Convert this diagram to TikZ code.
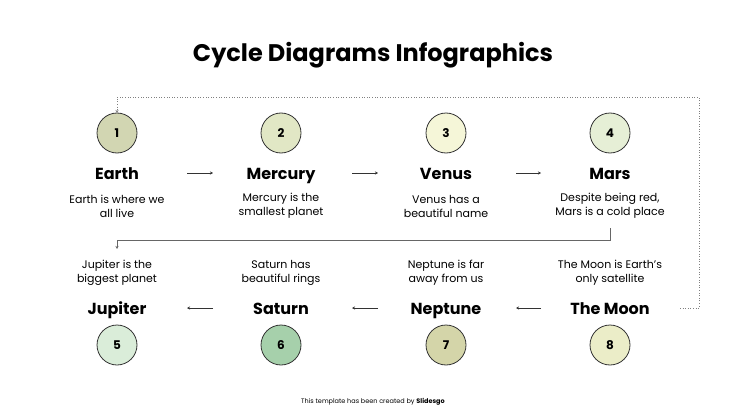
\documentclass[tikz,border=0pt]{standalone}
\usepackage{fontspec}
\setmainfont{Poppins}
\usetikzlibrary{arrows.meta}
\definecolor{c1}{HTML}{D2D6B2}
\definecolor{c2}{HTML}{E1E7C5}
\definecolor{c3}{HTML}{F5F6D8}
\definecolor{c4}{HTML}{E6EFD6}
\definecolor{c5}{HTML}{DAEDD9}
\definecolor{c6}{HTML}{A6D0AB}
\definecolor{c7}{HTML}{D4D5A9}
\definecolor{c8}{HTML}{EBEDC8}
\begin{document}
\begin{tikzpicture}[x=1pt,y=-1pt,
 num/.style={circle,draw=black!80,line width=0.8pt,minimum size=40pt,inner sep=0pt,font=\fontsize{12}{13}\selectfont\bfseries},
 nm/.style={font=\fontsize{16}{17}\selectfont\bfseries,text height=11pt,text depth=3pt,anchor=base},
 desc/.style={align=center,font=\fontsize{11}{14}\selectfont},
 ar/.style={-{Stealth[length=3pt,width=3pt]},line width=0.6pt,black!80}]
\useasboundingbox (0,0) rectangle (747,420);
\node[font=\fontsize{24}{26}\selectfont\bfseries] (title) at (373,55) {Cycle Diagrams Infographics};
\foreach \i/\x/\n/\d/\c in {1/117/Earth/{Earth is where we\\all live}/c1,2/281/Mercury/{Mercury is the\\smallest planet}/c2,3/446/Venus/{Venus has a\\beautiful name}/c3,4/610/Mars/{Despite being red,\\Mars is a cold place}/c4}{
 \node[num,fill=\c] (n\i) at (\x,133) {\i};
 \node[nm] (t\i) at (\x,179) {\n};
 \node[desc] (d\i) at (\x,206) {\d};
}
\foreach \i/\x/\n/\d/\c in {5/117/Jupiter/{Jupiter is the\\biggest planet}/c5,6/281/Saturn/{Saturn has\\beautiful rings}/c6,7/446/Neptune/{Neptune is far\\away from us}/c7,8/610/The Moon/{The Moon is Earth's\\only satellite}/c8}{
 \node[num,fill=\c] (n\i) at (\x,345) {\i};
 \node[nm] (t\i) at (\x,314) {\n};
 \node[desc] (d\i) at (\x,273) {\d};
}
\coordinate (a1) at (187,173); \coordinate (b1) at (213,173);
\coordinate (a2) at (352,173); \coordinate (b2) at (378,173);
\coordinate (a3) at (516,173); \coordinate (b3) at (541,173);
\draw[ar] (a1)--(b1); \draw[ar] (a2)--(b2); \draw[ar] (a3)--(b3);
\coordinate (e1) at (213,308); \coordinate (f1) at (187,308);
\coordinate (e2) at (378,308); \coordinate (f2) at (352,308);
\coordinate (e3) at (541,308); \coordinate (f3) at (516,308);
\draw[ar] (e1)--(f1); \draw[ar] (e2)--(f2); \draw[ar] (e3)--(f3);
\coordinate (s) at (610,228); \coordinate (g) at (117,249);
\draw[ar,black!60] (s) |- (117,240) -- (g);
\coordinate (p) at (680,308); \coordinate (q) at (117,113);
\draw[ar,black!50,dotted] (p) -- (699,308) -- (699,97) -- (117,97) -- (q);
\node[font=\fontsize{6.5}{8}\selectfont] (foot) at (373,402) {This template has been created by \textbf{Slidesgo}};
\end{tikzpicture}
\end{document}
